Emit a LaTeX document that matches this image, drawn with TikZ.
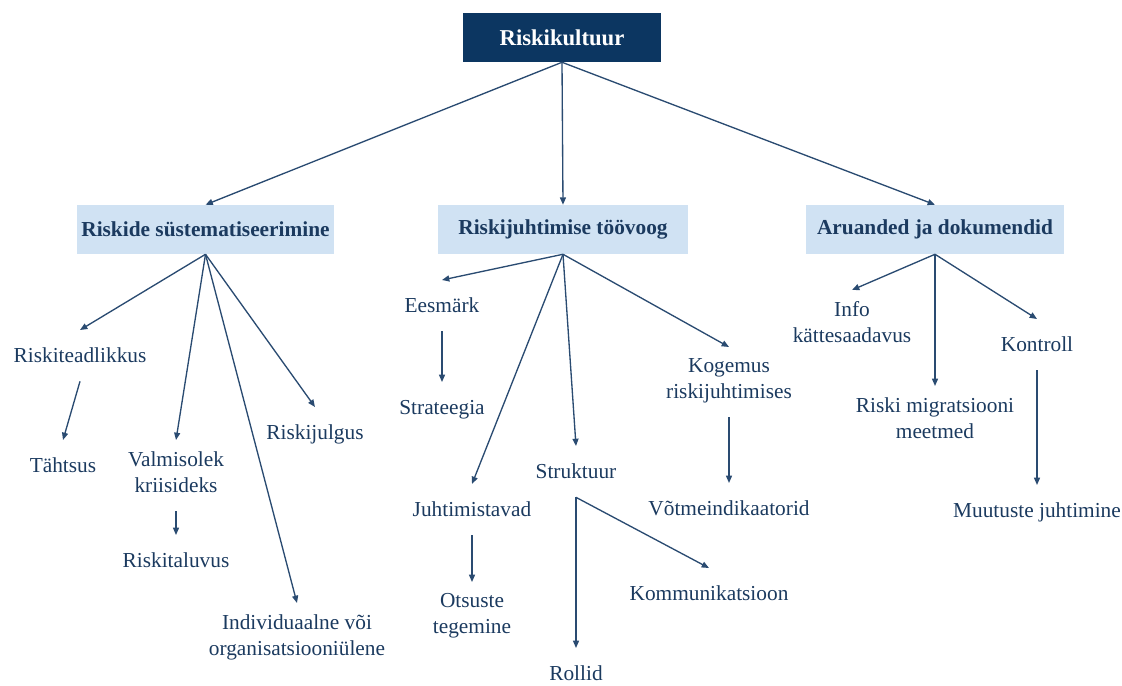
\documentclass[tikz,border=0pt]{standalone}
\usepackage{fontspec}
\setmainfont{Liberation Serif}
\usetikzlibrary{arrows.meta}

\definecolor{navy}{HTML}{0C3661}
\definecolor{inkblue}{HTML}{1B3A5F}
\definecolor{paleblue}{HTML}{D0E2F3}
\definecolor{arrowblue}{HTML}{2A4B71}

% struts that give every text line the same top and bottom
\newcommand\upstrut{\rule{0pt}{15.75pt}}
\newcommand\downstrut{\rule[-5.85pt]{0pt}{5.85pt}}

\begin{document}
\begin{tikzpicture}[x=0.75pt,y=-0.75pt,
  rootbox/.style={fill=navy, text=white, font=\bfseries\fontsize{17}{20}\selectfont,
    minimum width=148.5pt, minimum height=36.75pt, inner sep=0pt},
  catbox/.style={fill=paleblue, text=inkblue, font=\bfseries\fontsize{16}{19.5}\selectfont,
    minimum height=36.75pt, inner sep=0pt},
  leaf/.style={font=\fontsize{16}{19.5}\selectfont, text=inkblue, align=center,
    anchor=north, inner xsep=2pt, inner ysep=8.25pt,
    execute at begin node=\upstrut, execute at end node=\downstrut},
  arr/.style={draw=arrowblue, line width=1pt, -{Triangle[length=5.5pt,width=4.5pt]}}
]
\useasboundingbox (0,0) rectangle (1122,686);

% top and category boxes
\node[rootbox] (root) at (562,37.5) {Riskikultuur};
\node[catbox, minimum width=192.75pt] (sys)  at (205.5,229.5) {Riskide süstematiseerimine};
\node[catbox, minimum width=187.5pt]  (flow) at (563,229.5)   {Riskijuhtimise töövoog};
\node[catbox, minimum width=193.5pt]  (rep)  at (935,229.5)   {Aruanded ja dokumendid};

% left branch
\node[leaf] (teadl)  at (80,330)  {Riskiteadlikkus};
\node[leaf] (tahts)  at (63,440)  {Tähtsus};
\node[leaf] (valmis) at (176,440) {Valmisolek\\kriisideks};
\node[leaf] (taluv)  at (176,535) {Riskitaluvus};
\node[leaf] (julg)   at (315,407) {Riskijulgus};
\node[leaf] (indiv)  at (297,603) {Individuaalne või\\organisatsiooniülene};

% middle branch
\node[leaf] (eesm)   at (442,280) {Eesmärk};
\node[leaf] (strat)  at (442,382) {Strateegia};
\node[leaf] (juht)   at (472,484) {Juhtimistavad};
\node[leaf] (otsus)  at (472,582) {Otsuste\\tegemine};
\node[leaf] (strukt) at (576,446) {Struktuur};
\node[leaf] (rollid) at (576,648) {Rollid};
\node[leaf] (komm)   at (709,568) {Kommunikatsioon};
\node[leaf] (kogem)  at (729,347) {Kogemus\\riskijuhtimises};
\node[leaf] (votme)  at (729,483) {Võtmeindikaatorid};

% right branch
\node[leaf] (info)   at (852,290)  {Info\\kättesaadavus};
\node[leaf] (migr)   at (935,386)  {Riski migratsiooni\\meetmed};
\node[leaf] (kontr)  at (1037,319) {Kontroll};
\node[leaf] (muut)   at (1037,485) {Muutuste juhtimine};

% connectors
\draw[arr] (root.south) -- (sys.north);
\draw[arr] (root.south) -- (flow.north);
\draw[arr] (root.south) -- (rep.north);

\draw[arr] (sys.south) -- (teadl.north);
\draw[arr] (sys.south) -- (valmis.north);
\draw[arr] (sys.south) -- (julg.north);
\draw[arr] (sys.south) -- (indiv.north);
\draw[arr] (teadl.south) -- (tahts.north);
\draw[arr] (valmis.south) -- (taluv.north);

\draw[arr] (flow.south) -- (eesm.north);
\draw[arr] (flow.south) -- (juht.north);
\draw[arr] (flow.south) -- (strukt.north);
\draw[arr] (flow.south) -- (kogem.north);
\draw[arr] (eesm.south) -- (strat.north);
\draw[arr] (juht.south) -- (otsus.north);
\draw[arr] (strukt.south) -- (rollid.north);
\draw[arr] (strukt.south) -- (komm.north);
\draw[arr] (kogem.south) -- (votme.north);

\draw[arr] (rep.south) -- (info.north);
\draw[arr] (rep.south) -- (migr.north);
\draw[arr] (rep.south) -- (kontr.north);
\draw[arr] (kontr.south) -- (muut.north);
\end{tikzpicture}
\end{document}
